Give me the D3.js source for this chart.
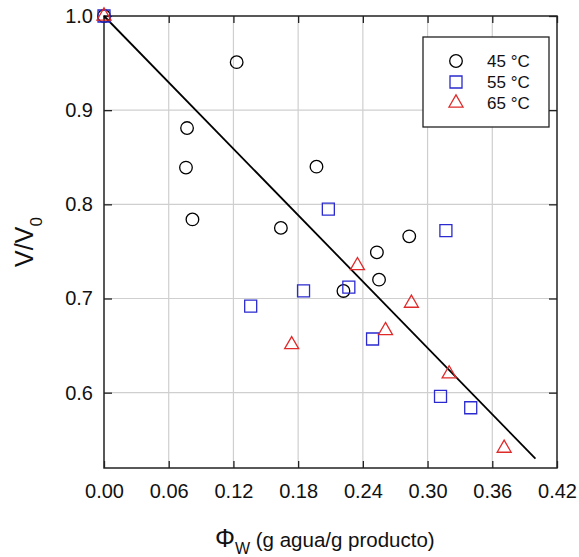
<!DOCTYPE html>
<html>
<head>
<meta charset="utf-8">
<script src="https://cdn.jsdelivr.net/npm/d3@7"></script>
<style>
  html, body { margin: 0; padding: 0; background: #fff; }
  svg { display: block; font-family: "Liberation Sans", Arial, sans-serif; }
</style>
</head>
<body>
<svg id="chart" width="579" height="557"></svg>
<script>
// Relative volume V/V0 against water content, three drying temperatures
const xTicks = [0.00, 0.06, 0.12, 0.18, 0.24, 0.30, 0.36, 0.42];
const yTicks = [0.6, 0.7, 0.8, 0.9, 1.0];

const seriesNames = ["45 °C", "55 °C", "65 °C"];
const seriesColors = ["#000000", "#2a2ad0", "#e02a2a"];

const x45 = [0.000, 0.123, 0.077, 0.076, 0.082, 0.164, 0.197, 0.253, 0.255, 0.222, 0.283];
const y45 = [1.000, 0.951, 0.881, 0.839, 0.784, 0.775, 0.840, 0.749, 0.720, 0.708, 0.766];

const x55 = [0.000, 0.208, 0.185, 0.136, 0.227, 0.249, 0.317, 0.312, 0.340];
const y55 = [1.000, 0.795, 0.708, 0.692, 0.712, 0.657, 0.772, 0.596, 0.584];

const x65 = [0.000, 0.174, 0.235, 0.285, 0.261, 0.320, 0.371];
const y65 = [1.000, 0.651, 0.735, 0.695, 0.666, 0.620, 0.541];

// Linear fit drawn across the data range
const fitX = [0.00, 0.40];
const fitY = [1.00, 0.53];

const svg = d3.select("#chart");
const plotL = 104, plotR = 557, plotT = 16, plotB = 468;

const x = d3.scaleLinear().domain([0, 0.42]).range([plotL, plotR]);
const y = d3.scaleLinear().domain([0.52, 1.0]).range([plotB, plotT]);

// grid
const grid = svg.append("g");
grid.selectAll(".gx").data(xTicks.slice(1, -1)).enter().append("line")
  .attr("x1", d => x(d)).attr("x2", d => x(d))
  .attr("y1", plotT).attr("y2", plotB)
  .attr("stroke", "#cfcfcf").attr("stroke-width", 1.2);
grid.selectAll(".gy").data(yTicks.filter(d => d < 1.0)).enter().append("line")
  .attr("x1", plotL).attr("x2", plotR)
  .attr("y1", d => y(d)).attr("y2", d => y(d))
  .attr("stroke", "#cfcfcf").attr("stroke-width", 1.2);

// axes with inward ticks on all four sides
const fontSize = 20;
const axB = svg.append("g").attr("transform", `translate(0,${plotB})`)
  .call(d3.axisBottom(x).tickValues(xTicks).tickFormat(d3.format(".2f"))
    .tickSizeInner(-7).tickSizeOuter(0).tickPadding(16));
const axL = svg.append("g").attr("transform", `translate(${plotL},0)`)
  .call(d3.axisLeft(y).tickValues(yTicks).tickFormat(d3.format(".1f"))
    .tickSizeInner(-8).tickSizeOuter(0).tickPadding(11));
const axT = svg.append("g").attr("transform", `translate(0,${plotT})`)
  .call(d3.axisTop(x).tickValues(xTicks).tickFormat("")
    .tickSizeInner(-7).tickSizeOuter(0));
const axR = svg.append("g").attr("transform", `translate(${plotR},0)`)
  .call(d3.axisRight(y).tickValues(yTicks).tickFormat("")
    .tickSizeInner(-8).tickSizeOuter(0));

[axB, axL, axT, axR].forEach(a => {
  a.select(".domain").remove();
  a.selectAll(".tick line").attr("stroke", "#222").attr("stroke-width", 1.3);
  a.selectAll(".tick text")
    .attr("font-family", "'Liberation Sans', Arial, sans-serif")
    .attr("font-size", fontSize).attr("fill", "#111");
});

// frame
svg.append("rect")
  .attr("x", plotL).attr("y", plotT)
  .attr("width", plotR - plotL).attr("height", plotB - plotT)
  .attr("fill", "none").attr("stroke", "#222").attr("stroke-width", 1.5);

// fitted line
svg.append("line")
  .attr("x1", x(fitX[0])).attr("y1", y(fitY[0]))
  .attr("x2", x(fitX[1])).attr("y2", y(fitY[1]))
  .attr("stroke", "#000").attr("stroke-width", 1.8);

// markers
const pts = svg.append("g").attr("fill", "none").attr("stroke-width", 1.3);
pts.selectAll(".c45").data(d3.zip(x45, y45)).enter().append("circle")
  .attr("cx", d => x(d[0])).attr("cy", d => y(d[1])).attr("r", 6.3)
  .attr("stroke", seriesColors[0]);
const sq = d3.symbol(d3.symbolSquare, 144);
pts.selectAll(".s55").data(d3.zip(x55, y55)).enter().append("path")
  .attr("d", sq).attr("transform", d => `translate(${x(d[0])},${y(d[1])})`)
  .attr("stroke", seriesColors[1]);
const tri = d3.symbol(d3.symbolTriangle, 85);
pts.selectAll(".t65").data(d3.zip(x65, y65)).enter().append("path")
  .attr("d", tri).attr("transform", d => `translate(${x(d[0])},${y(d[1])})`)
  .attr("stroke", seriesColors[2]);

// legend
const lg = svg.append("g");
lg.append("rect").attr("x", 423).attr("y", 37).attr("width", 126).attr("height", 90)
  .attr("fill", "#fff").attr("stroke", "#222").attr("stroke-width", 1.3);
const symbols = [
  g => g.append("circle").attr("r", 6.3),
  g => g.append("path").attr("d", sq),
  g => g.append("path").attr("d", tri)
];
seriesNames.forEach((name, i) => {
  const cy = 61 + i * 21;
  const g = lg.append("g").attr("transform", `translate(456,${cy})`)
    .attr("fill", "none").attr("stroke", seriesColors[i]).attr("stroke-width", 1.3);
  symbols[i](g);
  lg.append("text").attr("x", 487).attr("y", cy + 6)
    .attr("font-size", 17).attr("fill", "#111").text(name);
});

// axis titles
const yt = svg.append("text")
  .attr("transform", "translate(33,242) rotate(-90)")
  .attr("text-anchor", "middle").attr("fill", "#111");
yt.append("tspan").attr("font-size", 25).text("V/V");
yt.append("tspan").attr("font-size", 17).attr("dy", 9).text("0");

const xt = svg.append("text").attr("x", 215).attr("y", 547).attr("fill", "#111");
xt.append("tspan").attr("font-size", 25).text("Φ");
xt.append("tspan").attr("font-size", 16).attr("dy", 7).text("W");
xt.append("tspan").attr("font-size", 20.5).attr("dy", -7).text(" (g agua/g producto)");
</script>
</body>
</html>
